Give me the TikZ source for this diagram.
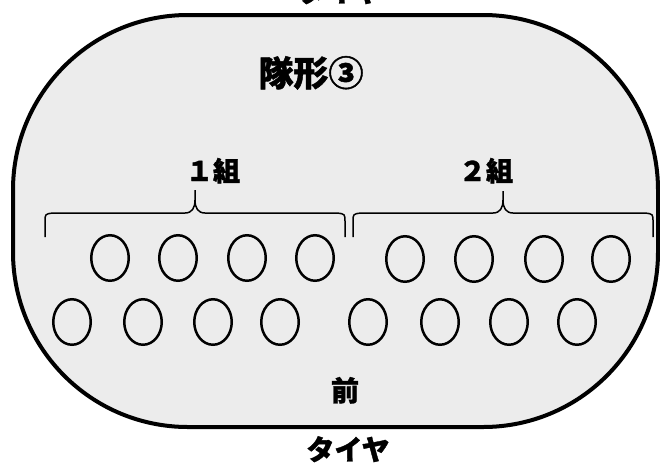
\documentclass[tikz,border=0pt]{standalone}
\usepackage{fontspec}
\newfontfamily\jp{Noto Sans CJK JP}[BoldFeatures={FakeBold=1.2}]
\usetikzlibrary{shapes.geometric}
\definecolor{fieldgray}{RGB}{236,236,236}
\tikzset{
  field/.style={draw=black, line width=4pt, fill=fieldgray, rounded corners=175pt},
  player/.style={draw=black, line width=2.5pt, ellipse, minimum width=37.5pt, minimum height=45.5pt, inner sep=0pt},
  bigtitle/.style={font=\jp\bfseries\fontsize{35}{35}\selectfont, anchor=base, inner sep=0pt},
  grouplabel/.style={font=\jp\bfseries\fontsize{27}{27}\selectfont, anchor=base, inner sep=0pt},
  sidelabel/.style={font=\jp\bfseries\fontsize{28}{28}\selectfont, anchor=base, inner sep=0pt},
  bracepath/.style={draw=black, line width=1.5pt},
}
\begin{document}
\begin{tikzpicture}[x=1pt,y=-1pt]
\useasboundingbox (0,0) rectangle (660,464);
\draw[field] (13,15) rectangle (658,427);
% texts
\node[sidelabel] (tireTop) at (340,2) {タイヤ};
\node[bigtitle] (title) at (311,86) {隊形③};
\node[grouplabel] (g1) at (213,181) {１組};
\node[grouplabel] (g2) at (486,181) {２組};
\node[sidelabel] (front) at (345,401) {前};
\node[sidelabel] (tireBottom) at (348,460) {タイヤ};
% braces
\draw[bracepath] (45,237) -- (45,222) .. controls (45,214) .. (53,213) -- (185,213)
   .. controls (192,213) and (195,208) .. (195,200) -- (195,190);
\draw[bracepath] (195,200) .. controls (195,208) and (198,213) .. (205,213) -- (337,213)
   .. controls (345,214) .. (345,222) -- (345,237);
\draw[bracepath] (353,237) -- (353,222) .. controls (353,214) .. (361,213) -- (493,213)
   .. controls (500,213) and (503,208) .. (503,200) -- (503,191);
\draw[bracepath] (503,200) .. controls (503,208) and (506,213) .. (513,213) -- (645,213)
   .. controls (653,214) .. (653,222) -- (653,237);
% players
\foreach \x [count=\i] in {110,178,247,315} \node[player] (a\i) at (\x,258) {};
\foreach \x [count=\i] in {72,143,213,280} \node[player] (b\i) at (\x,322) {};
\foreach \x [count=\i] in {405,474,544,611} \node[player] (c\i) at (\x,259) {};
\foreach \x [count=\i] in {368,440,509,577} \node[player] (d\i) at (\x,322) {};
\end{tikzpicture}
\end{document}
